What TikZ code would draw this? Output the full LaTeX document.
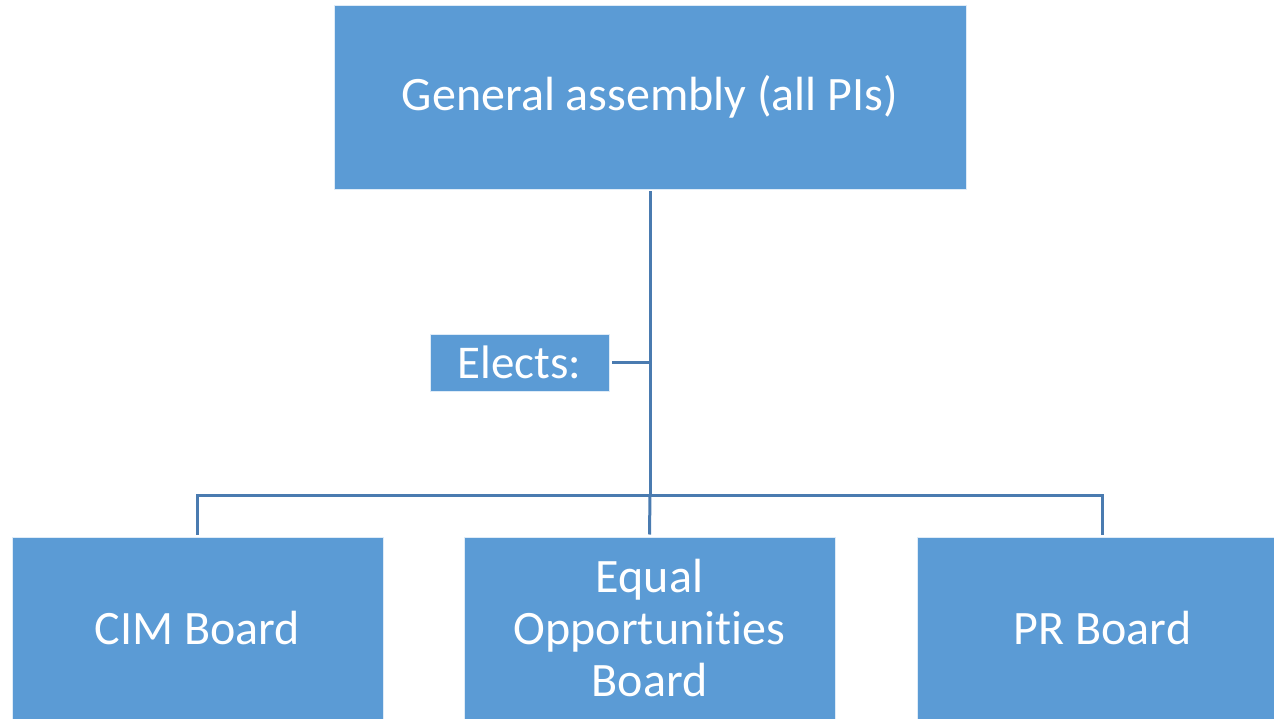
\documentclass[tikz,border=0pt]{standalone}
\usepackage{fontspec}
\setmainfont{Carlito}[Ligatures=NoCommon]
\definecolor{boxfill}{HTML}{5B9BD5}
\definecolor{linkcol}{HTML}{4A7BB0}
\begin{document}
\begin{tikzpicture}[x=1pt,y=-1pt,
  box/.style={rectangle, fill=boxfill, draw=white!80!boxfill, line width=0.8pt,
    text=white, align=center, inner sep=0pt, outer sep=2.5pt,
    font=\fontsize{48}{52}\selectfont},
  board/.style={box, minimum width=371pt, minimum height=182pt},
  link/.style={draw=linkcol, line width=3pt}]
  \useasboundingbox (0,0) rectangle (1274,719);

  % governing body
  \node[box, minimum width=632pt, minimum height=184pt] (ga) at (650,97) {General assembly (all PIs)};

  % label on the trunk
  \node[box, minimum width=179pt, minimum height=57pt, outer sep=3pt,
        font=\fontsize{47}{50}\selectfont] (elects) at (519.5,362.5) {Elects:};

  % elected boards
  \node[board] (cim) at (197.5,628) {CIM Board};
  \node[board] (eo)  at (649.5,628) {Equal\\Opportunities\\Board};
  \node[board] (pr)  at (1102.5,628) {PR Board};

  % tree connectors
  \coordinate (hub) at (650,495);
  \draw[link] (ga.south) -- (hub);
  \draw[link] (elects.east) -- (elects.east -| hub);
  \draw[link] (cim.north) |- (hub) -| (pr.north);
  \draw[link] (hub) -- (eo.north);
\end{tikzpicture}
\end{document}
